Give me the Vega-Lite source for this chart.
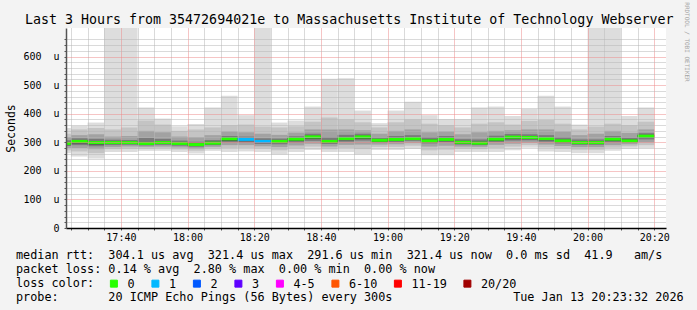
{
  "$schema": "https://vega.github.io/schema/vega-lite/v6.json",
  "width": 600,
  "height": 200,
  "autosize": "none",
  "padding": {"left": 66, "top": 28, "right": 31, "bottom": 82},
  "background": "#f3f3f3",
  "config": {"font": "DejaVu Sans Mono", "view": {"fill": "#ffffff", "stroke": null}},
  "data": {"values": [
    {"t0": "2026-01-13T17:20:00Z", "t1": "2026-01-13T17:25:00Z", "med": 296, "mn": 262, "mx": 350, "b0": 272, "b1": 330, "c0": 280, "c1": 318, "d0": 287, "d1": 307, "e0": 290, "e1": 301, "loss": "0"},
    {"t0": "2026-01-13T17:25:00Z", "t1": "2026-01-13T17:30:00Z", "med": 303, "mn": 250, "mx": 358, "b0": 268, "b1": 345, "c0": 280, "c1": 325, "d0": 290, "d1": 314, "e0": 296, "e1": 308, "loss": "0"},
    {"t0": "2026-01-13T17:30:00Z", "t1": "2026-01-13T17:35:00Z", "med": 299, "mn": 243, "mx": 369, "b0": 262, "b1": 350, "c0": 276, "c1": 328, "d0": 286, "d1": 312, "e0": 292, "e1": 304, "loss": "0"},
    {"t0": "2026-01-13T17:35:00Z", "t1": "2026-01-13T17:40:00Z", "med": 299, "mn": 266, "mx": 700, "b0": 276, "b1": 345, "c0": 283, "c1": 320, "d0": 290, "d1": 309, "e0": 294, "e1": 303, "loss": "0"},
    {"t0": "2026-01-13T17:40:00Z", "t1": "2026-01-13T17:45:00Z", "med": 299, "mn": 266, "mx": 700, "b0": 277, "b1": 352, "c0": 285, "c1": 322, "d0": 291, "d1": 308, "e0": 294, "e1": 303, "loss": "0"},
    {"t0": "2026-01-13T17:45:00Z", "t1": "2026-01-13T17:50:00Z", "med": 296, "mn": 270, "mx": 422, "b0": 278, "b1": 376, "c0": 284, "c1": 340, "d0": 289, "d1": 315, "e0": 292, "e1": 301, "loss": "0"},
    {"t0": "2026-01-13T17:50:00Z", "t1": "2026-01-13T17:55:00Z", "med": 299, "mn": 270, "mx": 383, "b0": 279, "b1": 362, "c0": 285, "c1": 335, "d0": 291, "d1": 312, "e0": 294, "e1": 304, "loss": "0"},
    {"t0": "2026-01-13T17:55:00Z", "t1": "2026-01-13T18:00:00Z", "med": 296, "mn": 266, "mx": 356, "b0": 275, "b1": 340, "c0": 282, "c1": 320, "d0": 288, "d1": 306, "e0": 291, "e1": 300, "loss": "0"},
    {"t0": "2026-01-13T18:00:00Z", "t1": "2026-01-13T18:05:00Z", "med": 292, "mn": 261, "mx": 364, "b0": 270, "b1": 345, "c0": 277, "c1": 318, "d0": 284, "d1": 302, "e0": 288, "e1": 296, "loss": "0"},
    {"t0": "2026-01-13T18:05:00Z", "t1": "2026-01-13T18:10:00Z", "med": 297, "mn": 270, "mx": 422, "b0": 278, "b1": 352, "c0": 284, "c1": 325, "d0": 290, "d1": 308, "e0": 293, "e1": 302, "loss": "0"},
    {"t0": "2026-01-13T18:10:00Z", "t1": "2026-01-13T18:15:00Z", "med": 312, "mn": 266, "mx": 463, "b0": 280, "b1": 360, "c0": 290, "c1": 338, "d0": 300, "d1": 322, "e0": 305, "e1": 316, "loss": "0"},
    {"t0": "2026-01-13T18:15:00Z", "t1": "2026-01-13T18:20:00Z", "med": 310, "mn": 268, "mx": 395, "b0": 280, "b1": 362, "c0": 290, "c1": 335, "d0": 299, "d1": 320, "e0": 304, "e1": 314, "loss": "1"},
    {"t0": "2026-01-13T18:20:00Z", "t1": "2026-01-13T18:25:00Z", "med": 303, "mn": 266, "mx": 700, "b0": 278, "b1": 355, "c0": 286, "c1": 330, "d0": 294, "d1": 314, "e0": 298, "e1": 308, "loss": "1"},
    {"t0": "2026-01-13T18:25:00Z", "t1": "2026-01-13T18:30:00Z", "med": 303, "mn": 257, "mx": 369, "b0": 272, "b1": 352, "c0": 283, "c1": 326, "d0": 293, "d1": 313, "e0": 298, "e1": 307, "loss": "0"},
    {"t0": "2026-01-13T18:30:00Z", "t1": "2026-01-13T18:35:00Z", "med": 311, "mn": 266, "mx": 376, "b0": 278, "b1": 356, "c0": 289, "c1": 334, "d0": 299, "d1": 321, "e0": 305, "e1": 315, "loss": "0"},
    {"t0": "2026-01-13T18:35:00Z", "t1": "2026-01-13T18:40:00Z", "med": 319, "mn": 273, "mx": 425, "b0": 285, "b1": 372, "c0": 295, "c1": 345, "d0": 305, "d1": 330, "e0": 312, "e1": 323, "loss": "0"},
    {"t0": "2026-01-13T18:40:00Z", "t1": "2026-01-13T18:45:00Z", "med": 303, "mn": 266, "mx": 522, "b0": 276, "b1": 387, "c0": 285, "c1": 345, "d0": 294, "d1": 318, "e0": 298, "e1": 308, "loss": "0"},
    {"t0": "2026-01-13T18:45:00Z", "t1": "2026-01-13T18:50:00Z", "med": 313, "mn": 266, "mx": 524, "b0": 280, "b1": 380, "c0": 291, "c1": 345, "d0": 302, "d1": 326, "e0": 307, "e1": 318, "loss": "0"},
    {"t0": "2026-01-13T18:50:00Z", "t1": "2026-01-13T18:55:00Z", "med": 319, "mn": 257, "mx": 411, "b0": 276, "b1": 370, "c0": 292, "c1": 342, "d0": 306, "d1": 330, "e0": 312, "e1": 323, "loss": "0"},
    {"t0": "2026-01-13T18:55:00Z", "t1": "2026-01-13T19:00:00Z", "med": 307, "mn": 273, "mx": 367, "b0": 284, "b1": 352, "c0": 292, "c1": 330, "d0": 299, "d1": 316, "e0": 302, "e1": 311, "loss": "0"},
    {"t0": "2026-01-13T19:00:00Z", "t1": "2026-01-13T19:05:00Z", "med": 310, "mn": 273, "mx": 411, "b0": 284, "b1": 370, "c0": 293, "c1": 340, "d0": 301, "d1": 322, "e0": 305, "e1": 314, "loss": "0"},
    {"t0": "2026-01-13T19:05:00Z", "t1": "2026-01-13T19:10:00Z", "med": 313, "mn": 277, "mx": 442, "b0": 288, "b1": 380, "c0": 297, "c1": 345, "d0": 305, "d1": 325, "e0": 308, "e1": 317, "loss": "0"},
    {"t0": "2026-01-13T19:10:00Z", "t1": "2026-01-13T19:15:00Z", "med": 305, "mn": 255, "mx": 395, "b0": 272, "b1": 365, "c0": 285, "c1": 335, "d0": 296, "d1": 318, "e0": 300, "e1": 310, "loss": "0"},
    {"t0": "2026-01-13T19:15:00Z", "t1": "2026-01-13T19:20:00Z", "med": 310, "mn": 255, "mx": 381, "b0": 274, "b1": 360, "c0": 288, "c1": 338, "d0": 300, "d1": 322, "e0": 304, "e1": 314, "loss": "0"},
    {"t0": "2026-01-13T19:20:00Z", "t1": "2026-01-13T19:25:00Z", "med": 300, "mn": 266, "mx": 381, "b0": 277, "b1": 352, "c0": 285, "c1": 328, "d0": 292, "d1": 311, "e0": 295, "e1": 305, "loss": "0"},
    {"t0": "2026-01-13T19:25:00Z", "t1": "2026-01-13T19:30:00Z", "med": 297, "mn": 266, "mx": 422, "b0": 276, "b1": 365, "c0": 284, "c1": 335, "d0": 290, "d1": 310, "e0": 293, "e1": 302, "loss": "0"},
    {"t0": "2026-01-13T19:30:00Z", "t1": "2026-01-13T19:35:00Z", "med": 311, "mn": 266, "mx": 425, "b0": 280, "b1": 370, "c0": 291, "c1": 340, "d0": 301, "d1": 323, "e0": 305, "e1": 315, "loss": "0"},
    {"t0": "2026-01-13T19:35:00Z", "t1": "2026-01-13T19:40:00Z", "med": 318, "mn": 272, "mx": 392, "b0": 285, "b1": 362, "c0": 295, "c1": 342, "d0": 306, "d1": 329, "e0": 311, "e1": 322, "loss": "0"},
    {"t0": "2026-01-13T19:40:00Z", "t1": "2026-01-13T19:45:00Z", "med": 317, "mn": 281, "mx": 417, "b0": 290, "b1": 375, "c0": 298, "c1": 345, "d0": 307, "d1": 328, "e0": 311, "e1": 321, "loss": "0"},
    {"t0": "2026-01-13T19:45:00Z", "t1": "2026-01-13T19:50:00Z", "med": 313, "mn": 268, "mx": 463, "b0": 282, "b1": 378, "c0": 292, "c1": 345, "d0": 302, "d1": 325, "e0": 307, "e1": 317, "loss": "0"},
    {"t0": "2026-01-13T19:50:00Z", "t1": "2026-01-13T19:55:00Z", "med": 305, "mn": 266, "mx": 425, "b0": 278, "b1": 365, "c0": 287, "c1": 338, "d0": 296, "d1": 318, "e0": 300, "e1": 309, "loss": "0"},
    {"t0": "2026-01-13T19:55:00Z", "t1": "2026-01-13T20:00:00Z", "med": 299, "mn": 262, "mx": 362, "b0": 274, "b1": 345, "c0": 283, "c1": 325, "d0": 291, "d1": 310, "e0": 294, "e1": 303, "loss": "0"},
    {"t0": "2026-01-13T20:00:00Z", "t1": "2026-01-13T20:05:00Z", "med": 299, "mn": 262, "mx": 700, "b0": 274, "b1": 355, "c0": 283, "c1": 330, "d0": 291, "d1": 310, "e0": 294, "e1": 304, "loss": "0"},
    {"t0": "2026-01-13T20:05:00Z", "t1": "2026-01-13T20:10:00Z", "med": 311, "mn": 270, "mx": 700, "b0": 281, "b1": 365, "c0": 290, "c1": 340, "d0": 300, "d1": 322, "e0": 305, "e1": 315, "loss": "0"},
    {"t0": "2026-01-13T20:10:00Z", "t1": "2026-01-13T20:15:00Z", "med": 305, "mn": 277, "mx": 392, "b0": 286, "b1": 360, "c0": 293, "c1": 333, "d0": 299, "d1": 316, "e0": 302, "e1": 310, "loss": "0"},
    {"t0": "2026-01-13T20:15:00Z", "t1": "2026-01-13T20:20:00Z", "med": 321.4, "mn": 279, "mx": 422, "b0": 290, "b1": 372, "c0": 300, "c1": 345, "d0": 310, "d1": 332, "e0": 315, "e1": 326, "loss": "0"}
  ]},
  "layer": [
    {
      "mark": {"type": "rect", "color": "#dddddd", "clip": true},
      "encoding": {
        "x": {
          "field": "t0", "type": "temporal",
          "scale": {"type": "utc", "domain": [1768325012000, 1768335812000]},
          "axis": {
            "orient": "bottom",
            "title": [
              "median rtt:\u00a0\u00a0304.1 us avg\u00a0\u00a0321.4 us max\u00a0\u00a0291.6 us min\u00a0\u00a0321.4 us now\u00a0\u00a00.0 ms sd\u00a0\u00a041.9\u00a0\u00a0\u00a0am/s",
              "packet loss: 0.14 % avg\u00a0\u00a02.80 % max\u00a0\u00a00.00 % min\u00a0\u00a00.00 % now",
              "loss color:",
              "probe:\u00a0\u00a0\u00a0\u00a0\u00a0\u00a0\u00a020 ICMP Echo Pings (56 Bytes) every 300s\u00a0\u00a0\u00a0\u00a0\u00a0\u00a0\u00a0\u00a0\u00a0\u00a0\u00a0\u00a0\u00a0\u00a0\u00a0\u00a0\u00a0Tue Jan 13 20:23:32 2026"
            ],
            "titleFont": "DejaVu Sans Mono", "titleFontSize": 11.8, "titleFontWeight": "normal", "titleColor": "#000000",
            "titleAlign": "left", "titleAnchor": "start", "titleBaseline": "alphabetic",
            "titleX": -50.5, "titleY": 30, "titleLineHeight": 14,
            "values": [1768325100000, 1768325400000, 1768325700000, 1768326000000, 1768326300000, 1768326600000, 1768326900000, 1768327200000, 1768327500000, 1768327800000, 1768328100000, 1768328400000, 1768328700000, 1768329000000, 1768329300000, 1768329600000, 1768329900000, 1768330200000, 1768330500000, 1768330800000, 1768331100000, 1768331400000, 1768331700000, 1768332000000, 1768332300000, 1768332600000, 1768332900000, 1768333200000, 1768333500000, 1768333800000, 1768334100000, 1768334400000, 1768334700000, 1768335000000, 1768335300000, 1768335600000],
            "labelExpr": "utcminutes(datum.value) % 20 === 0 ? utcFormat(datum.value, '%H:%M') : ''",
            "labelFont": "DejaVu Sans Mono", "labelFontSize": 10, "labelColor": "#000000", "labelPadding": 2.4,
            "labelFlush": false, "labelOverlap": false,
            "tickSize": 2, "tickColor": "#555555",
            "domainColor": "#000000", "domainWidth": 1.5,
            "grid": true, "gridDash": [1, 1], "gridWidth": 1,
            "gridColor": {"condition": {"test": "utcminutes(datum.value) % 20 === 0", "value": "#ec8a8a"}, "value": "#b4b4b4"},
            "zindex": 1
          }
        },
        "x2": {"field": "t1"},
        "y": {
          "field": "mn", "type": "quantitative",
          "scale": {"domain": [0, 661]},
          "axis": {
            "orient": "left",
            "title": "Seconds", "titleFont": "DejaVu Sans Mono", "titleFontSize": 11.5, "titleFontWeight": "normal", "titleColor": "#000000",
            "titleX": -51.5, "titleY": 100, "titleAlign": "center", "titleBaseline": "alphabetic", "titleAngle": -90,
            "values": [0, 20, 40, 60, 80, 100, 120, 140, 160, 180, 200, 220, 240, 260, 280, 300, 320, 340, 360, 380, 400, 420, 440, 460, 480, 500, 520, 540, 560, 580, 600, 620, 640, 660],
            "labelExpr": "datum.value % 100 === 0 ? (datum.value === 0 ? '0\u00a0\u00a0\u00a0' : datum.value + '\u00a0\u00a0u') : ''",
            "labelFont": "DejaVu Sans Mono", "labelFontSize": 10, "labelColor": "#000000", "labelPadding": 5, "labelBaseline": "middle",
            "labelOverlap": false, "labelFlush": false,
            "tickSize": 2, "tickColor": "#555555",
            "domainColor": "#555555", "domainWidth": 1.5,
            "grid": true, "gridDash": [1, 1], "gridWidth": 1,
            "gridColor": {"condition": {"test": "datum.value % 100 === 0", "value": "#ec8a8a"}, "value": "#b4b4b4"},
            "zindex": 1
          }
        },
        "y2": {"field": "mx"}
      }
    },
    {
      "mark": {"type": "rect", "color": "#c4c4c4", "clip": true},
      "encoding": {
        "x": {"field": "t0", "type": "temporal", "axis": null}, "x2": {"field": "t1"},
        "y": {"field": "b0", "type": "quantitative", "axis": null}, "y2": {"field": "b1"}
      }
    },
    {
      "mark": {"type": "rect", "color": "#a2a2a2", "clip": true},
      "encoding": {
        "x": {"field": "t0", "type": "temporal", "axis": null}, "x2": {"field": "t1"},
        "y": {"field": "c0", "type": "quantitative", "axis": null}, "y2": {"field": "c1"}
      }
    },
    {
      "mark": {"type": "rect", "color": "#7a7a7a", "clip": true},
      "encoding": {
        "x": {"field": "t0", "type": "temporal", "axis": null}, "x2": {"field": "t1"},
        "y": {"field": "d0", "type": "quantitative", "axis": null}, "y2": {"field": "d1"}
      }
    },
    {
      "mark": {"type": "rect", "color": "#474747", "clip": true},
      "encoding": {
        "x": {"field": "t0", "type": "temporal", "axis": null}, "x2": {"field": "t1"},
        "y": {"field": "e0", "type": "quantitative", "axis": null}, "y2": {"field": "e1"}
      }
    },
    {
      "mark": {"type": "rule", "strokeWidth": 3, "clip": true},
      "encoding": {
        "x": {
          "field": "t0", "type": "temporal",
          "axis": {
            "orient": "top",
            "title": "Last 3 Hours from 35472694021e to Massachusetts Institute of Technology Webserver",
            "titleFont": "DejaVu Sans Mono", "titleFontSize": 13.3, "titleFontWeight": "normal", "titleColor": "#000000",
            "titleX": -41.5, "titleY": -5, "titleAlign": "left", "titleAnchor": "start", "titleBaseline": "alphabetic",
            "labels": false, "ticks": false, "domain": false, "grid": false
          }
        },
        "x2": {"field": "t1"},
        "y": {
          "field": "med", "type": "quantitative",
          "axis": {
            "orient": "right",
            "title": "RRDTOOL / TOBI OETIKER",
            "titleFont": "DejaVu Sans Mono", "titleFontSize": 6, "titleFontWeight": "normal", "titleColor": "#a4a4a4",
            "titleAngle": 90, "titleX": 20.7, "titleY": 13.5, "titleAlign": "center", "titleBaseline": "middle",
            "labels": false, "ticks": false, "domain": false, "grid": false
          }
        },
        "color": {
          "field": "loss", "type": "nominal",
          "scale": {
            "domain": ["0", "1", "2", "3", "4-5", "6-10", "11-19", "20/20"],
            "range": ["#26ff00", "#00b8ff", "#0059ff", "#5e00ff", "#ff00ff", "#ff5500", "#ff0000", "#a10000"]
          },
          "legend": {
            "orient": "none", "legendX": 42, "legendY": 249.6, "direction": "horizontal", "title": null,
            "symbolType": "square", "symbolSize": 49, "symbolStrokeWidth": 1, "symbolOpacity": 1,
            "labelFont": "DejaVu Sans Mono", "labelFontSize": 11.8, "labelColor": "#000000", "labelOffset": 7.6,
            "columnPadding": 14.5, "padding": 0,
            "encode": {"symbols": {"update": {"fill": {"scale": "color", "field": "value"}, "stroke": {"value": "#000000"}, "strokeWidth": {"value": 1}}}}
          }
        }
      }
    }
  ],
  "resolve": {"axis": {"x": "independent", "y": "independent"}}
}
